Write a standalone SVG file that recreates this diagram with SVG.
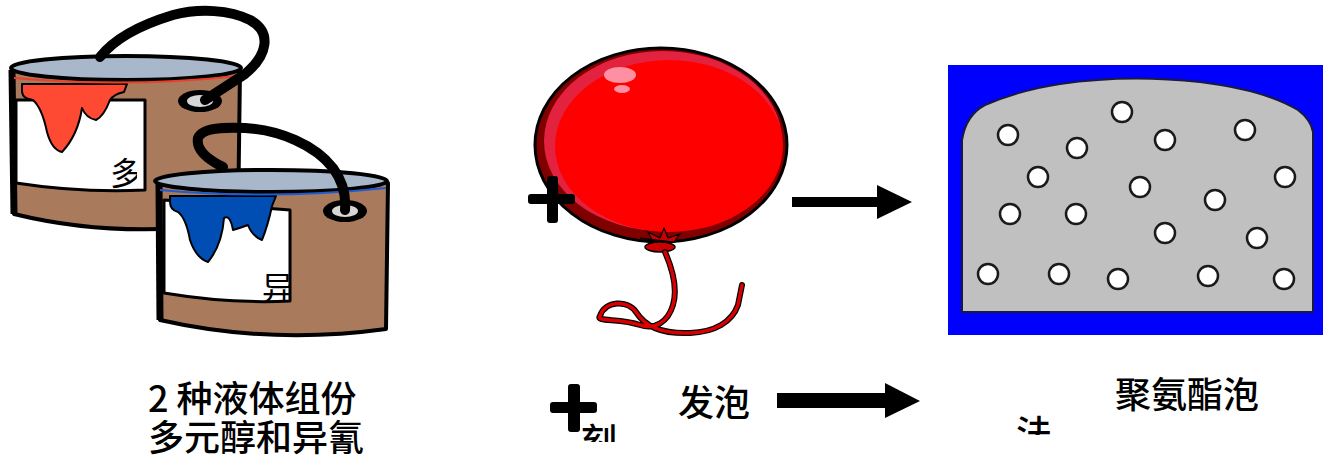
<svg xmlns="http://www.w3.org/2000/svg" width="1325" height="457" viewBox="0 0 1325 457">
  <style>
    .body { fill: #A97A5B; stroke: #000; stroke-width: 4; stroke-linejoin: round; }
    .lid { fill: #A8B8CA; stroke: #000; stroke-width: 4; }
    .label { fill: #fff; stroke: #000; stroke-width: 3; stroke-linejoin: round; }
    .handle { fill: none; stroke: #000; stroke-width: 10; stroke-linecap: round; stroke-linejoin: round; }
    .ring { fill: #000; }
    .ringin { fill: #D6D6D6; }
    .bubble { fill: #fff; stroke: #1a1a1a; stroke-width: 2.5; }
    .cap { font-family: "Noto Sans CJK SC", "Noto Sans", sans-serif; font-size: 36px; font-weight: 500; fill: #000; }
    .tag { font-family: "Noto Sans CJK SC", "Noto Sans", sans-serif; font-size: 32px; fill: #000; }
    .arrow { fill: #000; }
    .ribbon { fill: none; stroke-linecap: round; stroke-linejoin: round; }
  </style>
  <defs>
    <clipPath id="clipDuo"><rect x="100" y="140" width="37" height="50"/></clipPath>
    <clipPath id="clipYi"><rect x="250" y="260" width="41" height="41"/></clipPath>
    <clipPath id="clipKe"><rect x="575" y="415" width="60" height="27"/></clipPath>
    <clipPath id="clipFa"><rect x="1010" y="405" width="60" height="30"/></clipPath>
    <path id="ribbonPath" d="M665 252 C672 268 678 288 673 305 C668 322 655 330 640 325 C620 318 595 322 600 316 C605 300 628 300 636 312 C645 326 660 334 690 333 C715 332 732 322 738 305 L742 285"/>
  </defs>

  <rect width="1325" height="457" fill="#fff"/>

  <!-- red paint bucket -->
  <g id="bucket-red">
    <path class="body" d="M12 70 L14 214 Q120 240 238 222 L240 70 Z"/>
    <path d="M12 70 L14 214" stroke="#000" stroke-width="7" fill="none"/>
    <path class="label" d="M16 100 L145 100 L145 190 Q80 193 16 183 Z"/>
    <path fill="#FF4A33" stroke="#000" stroke-width="2" stroke-linejoin="round"
          d="M22 84 L127 84 L124 92 Q114 94 110 100 Q104 116 96 120 Q86 118 82 108 Q78 135 62 152 Q52 150 47 132 Q42 108 33 100 Q23 99 22 92 Z"/>
    <ellipse class="lid" cx="126" cy="68" rx="115" ry="12"/>
    <path d="M14 78 Q126 88 238 76" fill="none" stroke="#E8402A" stroke-width="2"/>
    <ellipse class="ring" cx="200" cy="101" rx="22" ry="11"/>
    <ellipse class="ringin" cx="200" cy="101" rx="13" ry="6"/>
    <path class="handle" d="M100 57 C115 38 140 25 173 15 C200 8 230 10 250 20 C272 32 268 55 245 74 L205 100"/>
    <text class="tag" x="110" y="185" clip-path="url(#clipDuo)">多</text>
  </g>

  <!-- blue paint bucket -->
  <g id="bucket-blue">
    <path class="body" d="M159 183 L160 320 Q270 345 386 329 L388 183 Z"/>
    <path d="M159 183 L160 320" stroke="#000" stroke-width="7" fill="none"/>
    <path class="label" d="M164 200 L290 210 L290 301 Q230 304 164 293 Z"/>
    <path fill="#004DB3" stroke="#000" stroke-width="2" stroke-linejoin="round"
          d="M170 196 L276 196 L272 206 Q268 225 262 240 Q252 236 248 225 Q240 228 233 230 Q230 214 224 218 Q222 245 208 262 Q196 258 190 240 Q186 218 178 212 Q170 210 170 202 Z"/>
    <ellipse class="lid" cx="271" cy="181" rx="116" ry="11"/>
    <path d="M160 190 Q271 200 386 188" fill="none" stroke="#1E5BD0" stroke-width="2"/>
    <ellipse class="ring" cx="345" cy="211" rx="22" ry="11"/>
    <ellipse class="ringin" cx="345" cy="211" rx="13" ry="6"/>
    <path class="handle" d="M223 167 C205 158 196 148 198 138 C202 128 222 127 245 128 C280 130 315 145 333 168 C344 183 346 198 345 210"/>
    <text class="tag" x="262" y="300" clip-path="url(#clipYi)">异</text>
  </g>

  <!-- balloon (blowing agent) -->
  <g id="balloon">
    <ellipse cx="661" cy="145" rx="126" ry="97" fill="#800000" stroke="#000" stroke-width="3"/>
    <ellipse cx="663" cy="141" rx="119" ry="90" fill="#E3223F"/>
    <ellipse cx="669" cy="146" rx="114" ry="86" fill="#FF0000"/>
    <ellipse cx="620" cy="75" rx="16" ry="8" fill="#FF8FA3"/>
    <ellipse cx="622" cy="89" rx="8" ry="4" fill="#FF8FA3"/>
    <path d="M640 238 L652 240 L648 232 L660 238 L664 228 L668 238 L680 234 L674 242 Z" fill="#CC0000" stroke="#000" stroke-width="1.2"/>
    <ellipse cx="660" cy="247" rx="15" ry="5" fill="#CC0000" stroke="#000" stroke-width="1.5"/>
    <use href="#ribbonPath" class="ribbon" stroke="#000" stroke-width="6"/>
    <use href="#ribbonPath" class="ribbon" stroke="#D80000" stroke-width="3.5"/>
  </g>

  <!-- plus sign between the buckets and the balloon -->
  <g id="plus-1">
    <rect x="528" y="194" width="47" height="10" rx="3" fill="#000"/>
    <rect x="547" y="176" width="11" height="47" rx="3" fill="#000"/>
  </g>

  <!-- foam block with cells -->
  <g id="foam">
    <rect x="948" y="65" width="375" height="270" fill="#0000FF"/>
    <path d="M962 312 L962 140 Q966 115 985 105 Q1020 90 1060 84 Q1127 74 1200 82 Q1265 90 1298 110 Q1311 120 1313 132 L1313 312 Z"
          fill="#C0C0C0" stroke="#1a1a40" stroke-width="2"/>
    <circle class="bubble" cx="1008" cy="135" r="10"/>
    <circle class="bubble" cx="1122" cy="112" r="10"/>
    <circle class="bubble" cx="1077" cy="148" r="10"/>
    <circle class="bubble" cx="1165" cy="140" r="10"/>
    <circle class="bubble" cx="1245" cy="130" r="10"/>
    <circle class="bubble" cx="1038" cy="177" r="10"/>
    <circle class="bubble" cx="1140" cy="187" r="10"/>
    <circle class="bubble" cx="1285" cy="177" r="10"/>
    <circle class="bubble" cx="1215" cy="200" r="10"/>
    <circle class="bubble" cx="1010" cy="214" r="10"/>
    <circle class="bubble" cx="1076" cy="214" r="10"/>
    <circle class="bubble" cx="1165" cy="233" r="10"/>
    <circle class="bubble" cx="1257" cy="238" r="10"/>
    <circle class="bubble" cx="988" cy="274" r="10"/>
    <circle class="bubble" cx="1059" cy="274" r="10"/>
    <circle class="bubble" cx="1118" cy="279" r="10"/>
    <circle class="bubble" cx="1208" cy="276" r="10"/>
    <circle class="bubble" cx="1284" cy="279" r="10"/>
  </g>

  <!-- caption row -->
  <g id="caption-components">
    <text class="cap" x="148" y="412">2 种液体组份</text>
    <text class="cap" x="148" y="451">多元醇和异氰</text>
  </g>
  <g id="plus-2">
    <rect x="550" y="402" width="47" height="11" rx="3" fill="#000"/>
    <rect x="568" y="384" width="12" height="48" rx="3" fill="#000"/>
    <text class="cap" x="581" y="455" font-size="35" clip-path="url(#clipKe)">刻</text>
  </g>
  <g id="caption-foaming">
    <text class="cap" x="678" y="416">发泡</text>
  </g>
  <g id="caption-foam">
    <text class="cap" x="1115" y="408">聚氨酯泡</text>
    <text class="cap" x="1016" y="447" font-size="35" clip-path="url(#clipFa)">法</text>
  </g>

  <!-- connectors -->
  <g id="connectors">
    <polygon class="arrow" points="792,197 877,197 877,185 912,202 877,219 877,207 792,207"/>
    <polygon class="arrow" points="777,393 885,393 885,383 920,401 885,418 885,408 777,408"/>
  </g>
</svg>
